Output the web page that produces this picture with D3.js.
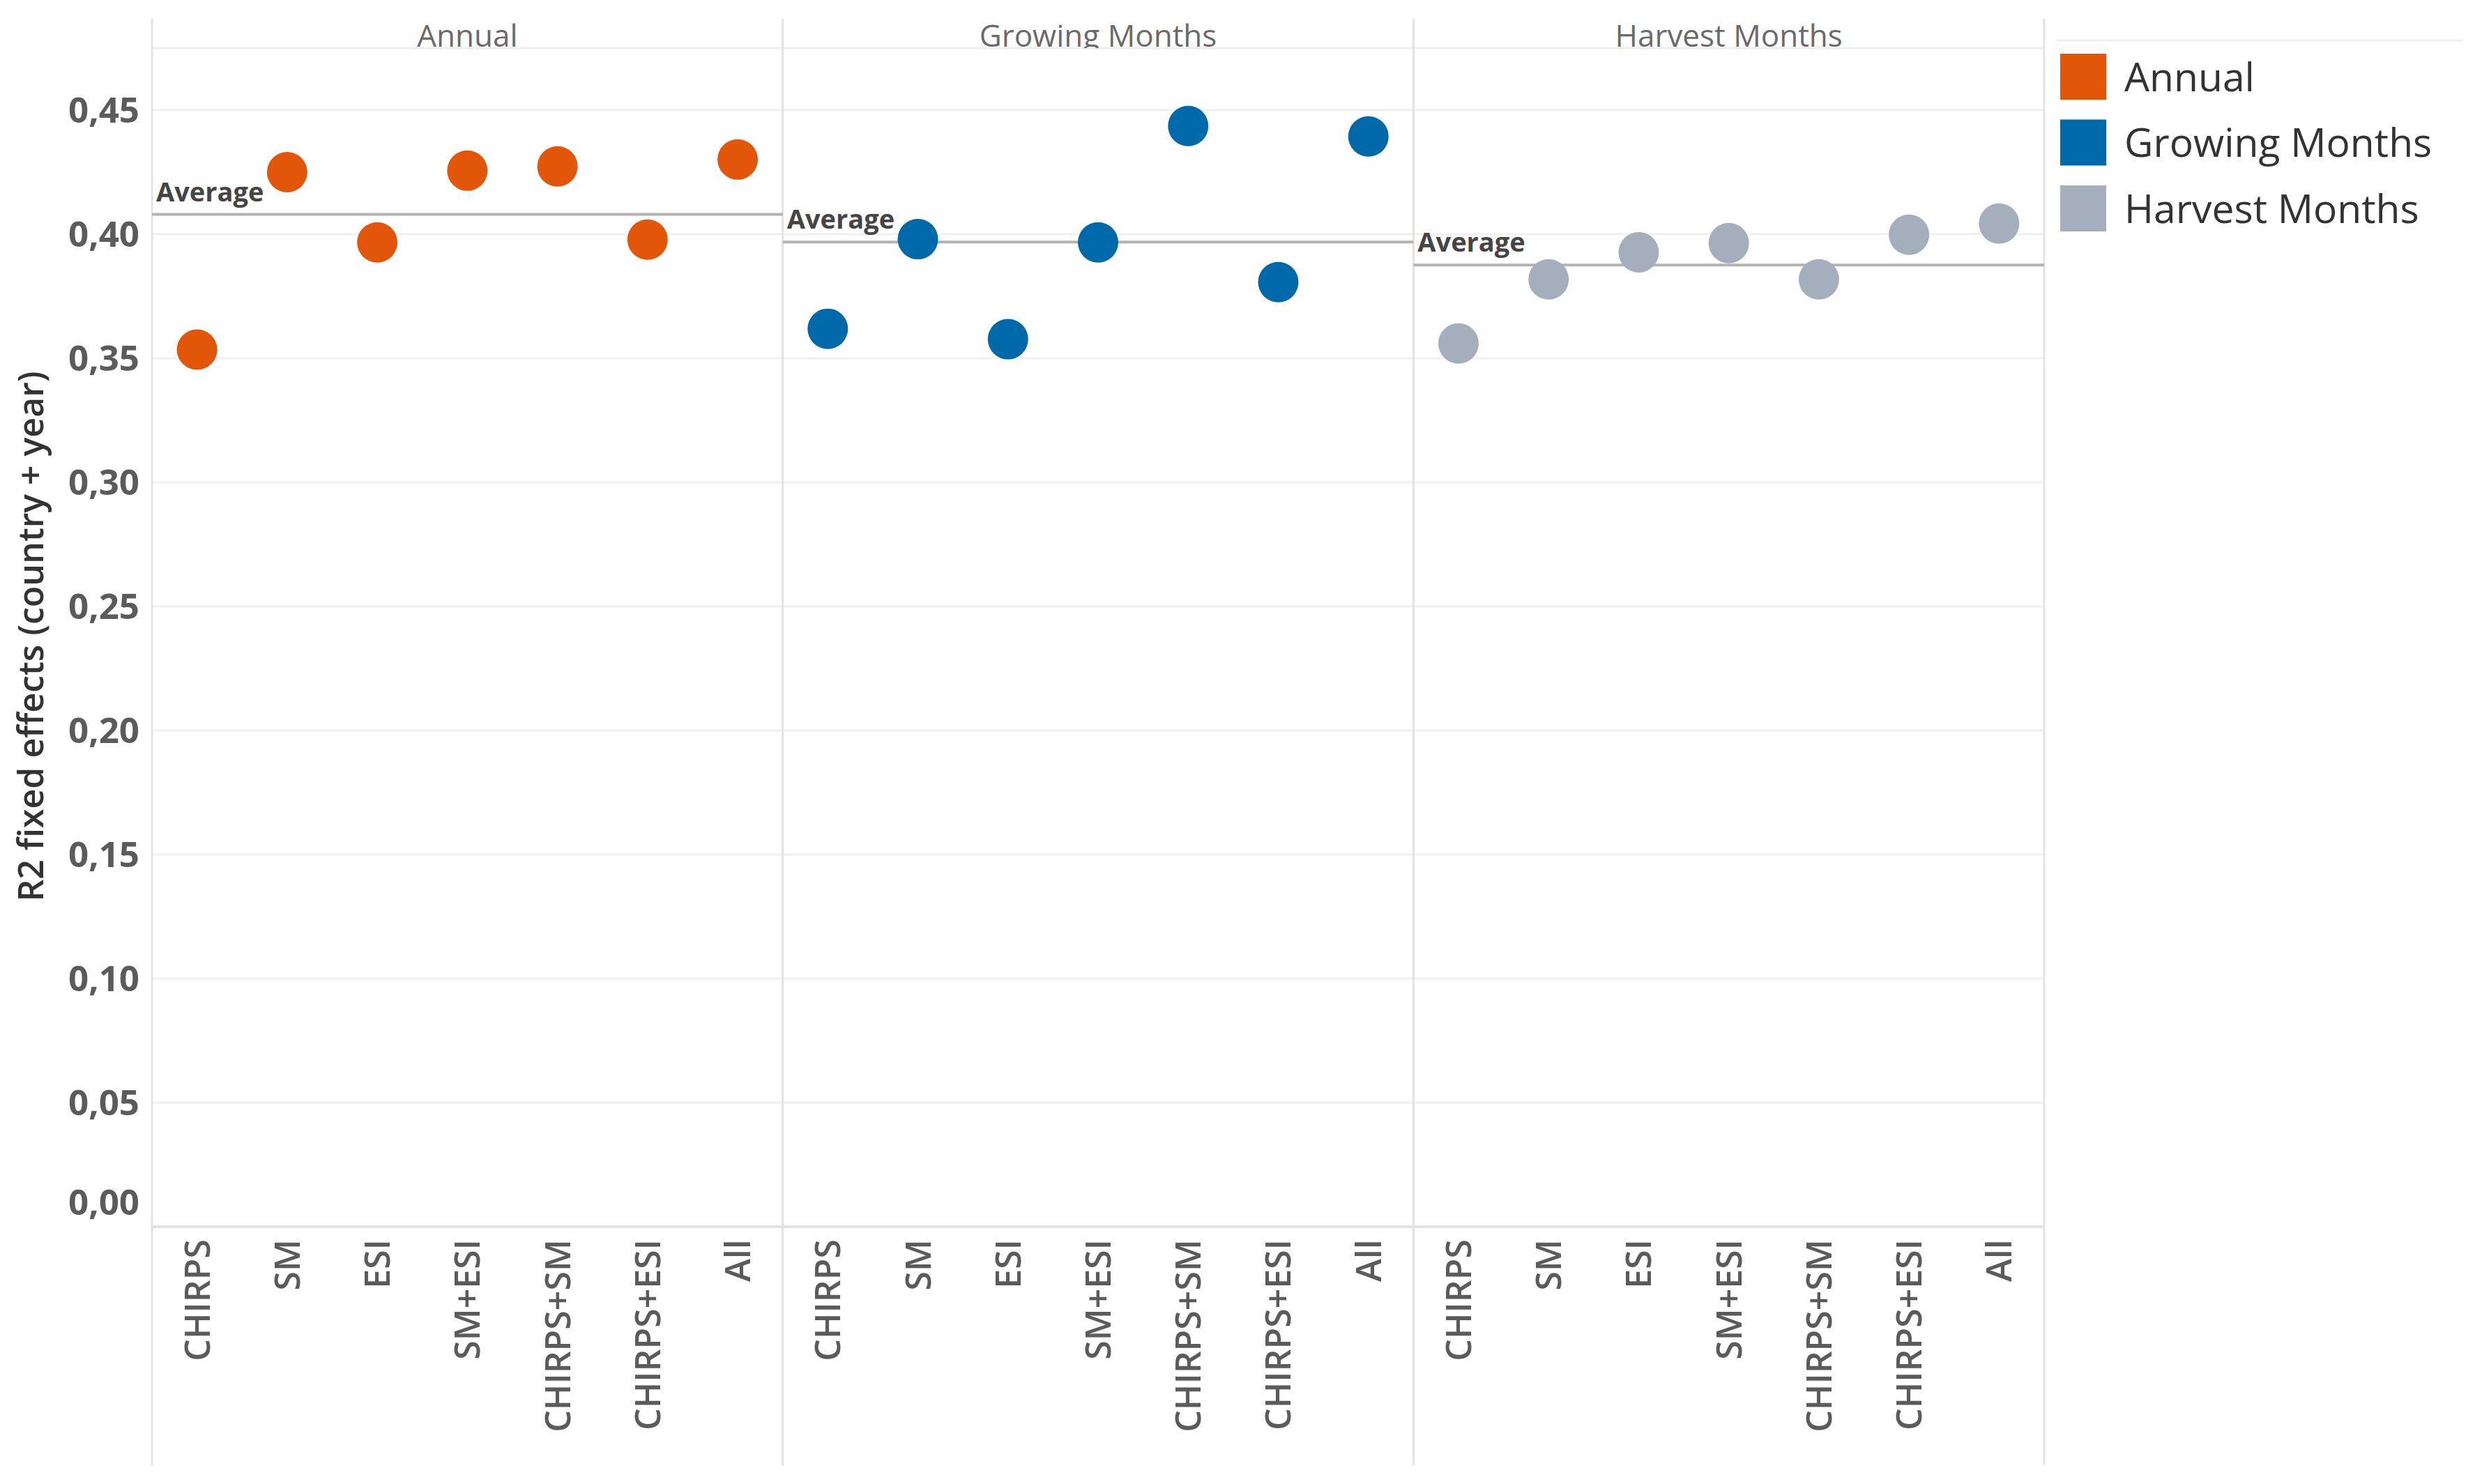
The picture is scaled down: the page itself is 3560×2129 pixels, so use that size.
<!DOCTYPE html>
<html>
<head>
<meta charset="utf-8">
<script src="https://cdn.jsdelivr.net/npm/d3@7"></script>
<style>
  body { margin: 0; background: #fff; }
  svg { display: block; font-family: "Open Sans", sans-serif; }
</style>
</head>
<body>
<div id="chart"></div>
<script>
// panels (colour groups) and the predictor combinations on the x axis
const periods = ["Annual", "Growing Months", "Harvest Months"];
const predictors = ["CHIRPS", "SM", "ESI", "SM+ESI", "CHIRPS+SM", "CHIRPS+ESI", "All"];

// R2 values, one per predictor
const annualValues  = [0.3535, 0.425, 0.3967, 0.4256, 0.4273, 0.3978, 0.4301];
const growingValues = [0.3619, 0.398, 0.3577, 0.3967, 0.4436, 0.3807, 0.4394];
const harvestValues = [0.356, 0.3818, 0.3927, 0.3964, 0.3818, 0.3998, 0.4043];

const yTicks = [0, 0.05, 0.10, 0.15, 0.20, 0.25, 0.30, 0.35, 0.40, 0.45];
const colors = ["#e2560a", "#0069aa", "#a4aebc"];

const seriesValues = [annualValues, growingValues, harvestValues];

function createChart() {
  const width = 3560;
  const height = 2129;
  const plotLeft = 218;
  const plotRight = 2932;
  const plotTop = 69;      // below the panel header row
  const axisY = 1760;      // y of 0
  const frameTop = 27;
  const frameBottom = 2102;

  const svg = d3.select("#chart").append("svg")
    .attr("width", width)
    .attr("height", height)
    .attr("viewBox", [0, 0, width, height]);

  svg.append("rect").attr("width", width).attr("height", height).attr("fill", "#fff");

  const panel = d3.scaleBand().domain(periods).range([plotLeft, plotRight]).padding(0);
  const x = d3.scaleBand().domain(predictors).range([0, panel.bandwidth()]).padding(0);
  const y = d3.scaleLinear().domain([0, 0.475]).range([axisY, plotTop]);
  const fmt = v => d3.format(".2f")(v).replace(".", ",");

  // horizontal gridlines
  svg.append("g")
    .selectAll("line")
    .data(yTicks.filter(d => d > 0))
    .join("line")
      .attr("x1", plotLeft)
      .attr("x2", plotRight)
      .attr("y1", d => y(d))
      .attr("y2", d => y(d))
      .attr("stroke", "#f1f1f1")
      .attr("stroke-width", 3);

  // header separator
  svg.append("line")
    .attr("x1", plotLeft).attr("x2", plotRight)
    .attr("y1", plotTop).attr("y2", plotTop)
    .attr("stroke", "#eeeeee").attr("stroke-width", 3);

  // zero / axis line
  svg.append("line")
    .attr("x1", plotLeft).attr("x2", plotRight)
    .attr("y1", axisY).attr("y2", axisY)
    .attr("stroke", "#e2e2e2").attr("stroke-width", 4);

  // panel dividers
  const dividers = periods.map(p => panel(p)).concat([plotRight]);
  svg.append("g")
    .selectAll("line")
    .data(dividers)
    .join("line")
      .attr("x1", d => d).attr("x2", d => d)
      .attr("y1", frameTop).attr("y2", frameBottom)
      .attr("stroke", "#e3e3e3")
      .attr("stroke-width", 3);

  // y axis
  const yAxis = svg.append("g")
    .attr("transform", `translate(${plotLeft},0)`)
    .call(d3.axisLeft(y).tickValues(yTicks).tickFormat(fmt).tickSize(0).tickPadding(18));
  yAxis.select(".domain").remove();
  yAxis.selectAll("text")
    .attr("font-family", "Open Sans, sans-serif")
    .attr("font-size", 51)
    .attr("font-weight", 700)
    .attr("fill", "#5b5b5b")
    .attr("dy", d => d === 0 ? "-0.35em" : "0.35em");

  svg.append("text")
    .attr("transform", "translate(62,913) rotate(-90)")
    .attr("text-anchor", "middle")
    .attr("font-size", 50)
    .attr("font-weight", 600)
    .attr("fill", "#333")
    .text("R2 fixed effects (country + year)");

  const defs = svg.append("defs");

  periods.forEach((p, i) => {
    const g = svg.append("g").attr("transform", `translate(${panel(p)},0)`);
    const values = seriesValues[i];
    const avg = d3.mean(values);

    // panel header, clipped at the separator like the original
    defs.append("clipPath").attr("id", "hdr" + i)
      .append("rect")
        .attr("x", 0).attr("y", frameTop)
        .attr("width", panel.bandwidth()).attr("height", plotTop - frameTop);
    g.append("text")
      .attr("clip-path", `url(#hdr${i})`)
      .attr("x", panel.bandwidth() / 2)
      .attr("y", 67)
      .attr("text-anchor", "middle")
      .attr("font-size", 44)
      .attr("fill", "#6a6a6a")
      .text(p);

    // average reference line
    g.append("line")
      .attr("x1", 0).attr("x2", panel.bandwidth())
      .attr("y1", y(avg)).attr("y2", y(avg))
      .attr("stroke", "#b3b3b3")
      .attr("stroke-width", 4);
    g.append("text")
      .attr("x", 6)
      .attr("y", y(avg) - 19)
      .attr("font-size", 38)
      .attr("font-weight", 700)
      .attr("fill", "#454545")
      .text("Average");

    // points
    g.selectAll("circle")
      .data(predictors.map((c, j) => ({c, v: values[j]})))
      .join("circle")
        .attr("cx", d => x(d.c) + x.bandwidth() / 2)
        .attr("cy", d => y(d.v))
        .attr("r", 29)
        .attr("fill", colors[i]);

    // x axis labels
    const xAxis = g.append("g")
      .attr("transform", `translate(0,${axisY})`)
      .call(d3.axisBottom(x).tickSize(0).tickPadding(0));
    xAxis.select(".domain").remove();
    xAxis.selectAll("text")
      .attr("font-family", "Open Sans, sans-serif")
      .attr("font-size", 50)
      .attr("font-weight", 600)
      .attr("fill", "#5b5b5b")
      .attr("text-anchor", "end")
      .attr("transform", "rotate(-90)")
      .attr("x", -18)
      .attr("y", 0)
      .attr("dy", "0.36em");
  });

  // legend
  const legend = svg.append("g").attr("transform", "translate(2955,0)");
  legend.append("line")
    .attr("x1", -5).attr("x2", 577)
    .attr("y1", 58).attr("y2", 58)
    .attr("stroke", "#eeeeee").attr("stroke-width", 3);
  const item = legend.selectAll("g.item")
    .data(periods)
    .join("g")
      .attr("class", "item")
      .attr("transform", (d, i) => `translate(0,${77 + i * 94.5})`);
  item.append("rect")
    .attr("width", 66).attr("height", 66)
    .attr("fill", (d, i) => colors[i]);
  item.append("text")
    .attr("x", 92)
    .attr("y", 33)
    .attr("dy", "0.36em")
    .attr("font-size", 57)
    .attr("fill", "#333")
    .text(d => d);

  return svg.node();
}

createChart();
</script>
</body>
</html>
